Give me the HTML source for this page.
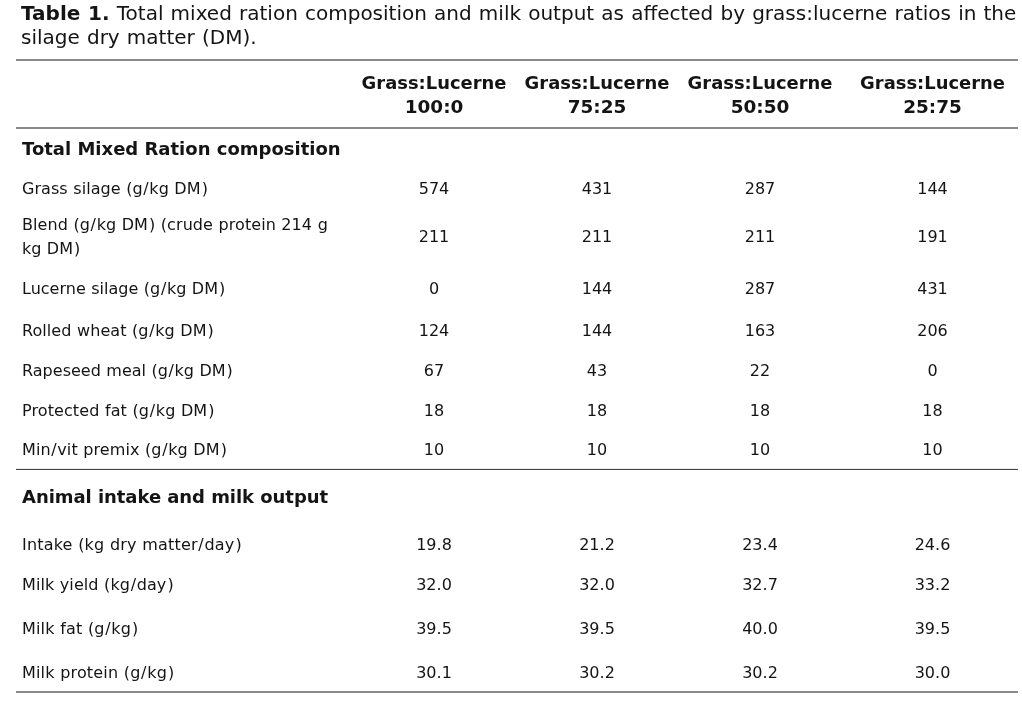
<!DOCTYPE html>
<html lang="en"><head><meta charset="utf-8"><title>Table 1. Total mixed ration composition and milk output</title>
<style>
html,body{margin:0;padding:0;background:#fff;}
body{width:1022px;height:702px;position:relative;overflow:hidden;font-family:'DejaVu Sans', 'Liberation Sans', sans-serif;color:#141414;}
.caption{position:absolute;left:21px;top:1px;margin:0;font-size:20px;line-height:24px;word-spacing:0.8px;white-space:nowrap;font-weight:normal;}
table{position:absolute;left:16px;top:59px;width:1002px;border-collapse:separate;border-spacing:0;table-layout:fixed;font-size:16px;line-height:24px;}
th,td{padding:0;vertical-align:top;white-space:nowrap;font-weight:normal;}
tbody th{text-align:left;padding-left:6px;word-spacing:0.35px;}
td{text-align:center;}
td:last-child{padding-left:5px;}
.hdr td,.hdr th{border-top:2px solid #8a8a8a;border-bottom:2px solid #8a8a8a;}
.hdr th{font-weight:bold;font-size:17px;text-align:center;line-height:24px;}
.hdr th:last-child{padding-left:5px;}
.hdr .g{transform:scaleX(1.054);}
.hdr .r{transform:scaleX(1.085);}
tr.sec th{font-weight:bold;font-size:18px;padding-left:6px;word-spacing:0;}
tr.end th,tr.end td{border-bottom:1px solid #444;box-shadow:inset 0 -1px 0 #ededed;}
tr.last th,tr.last td{border-bottom:2px solid #8a8a8a;}
.sl{margin:0 0.6px;}
.rp{margin-left:1px;}
</style></head><body>
<p class="caption"><b>Table 1.</b> Total mixed ration composition and milk output as affected by grass:lucerne ratios in the<br>silage dry matter (DM).</p>
<table>
<colgroup><col style="width:336px"><col style="width:164px"><col style="width:162px"><col style="width:164px"><col style="width:176px"></colgroup>
<thead><tr class="hdr" style="height:70px"><td></td><th scope="col" style="padding-top:10px"><div class="g">Grass:Lucerne</div><div class="r">100:0</div></th><th scope="col" style="padding-top:10px"><div class="g">Grass:Lucerne</div><div class="r">75:25</div></th><th scope="col" style="padding-top:10px"><div class="g">Grass:Lucerne</div><div class="r">50:50</div></th><th scope="col" style="padding-top:10px"><div class="g">Grass:Lucerne</div><div class="r">25:75</div></th></tr></thead>
<tbody>
<tr class="sec" style="height:41px"><th colspan="5" style="padding-top:8px">Total Mixed Ration composition</th></tr>
<tr style="height:40px"><th scope="row" style="padding-top:7px;letter-spacing:0.062px">Grass silage (g<span class="sl">/</span>kg DM<span class="rp">)</span></th><td style="padding-top:7px">574</td><td style="padding-top:7px">431</td><td style="padding-top:7px">287</td><td style="padding-top:7px">144</td></tr>
<tr style="height:60px"><th scope="row" style="padding-top:3px"><span style="letter-spacing:0.071px">Blend (g<span class="sl">/</span>kg DM<span class="rp">)</span> (crude protein 214 g</span><br>kg DM<span class="rp">)</span></th><td style="padding-top:15px">211</td><td style="padding-top:15px">211</td><td style="padding-top:15px">211</td><td style="padding-top:15px">191</td></tr>
<tr style="height:42px"><th scope="row" style="padding-top:7px;letter-spacing:0.017px">Lucerne silage (g<span class="sl">/</span>kg DM<span class="rp">)</span></th><td style="padding-top:7px">0</td><td style="padding-top:7px">144</td><td style="padding-top:7px">287</td><td style="padding-top:7px">431</td></tr>
<tr style="height:40px"><th scope="row" style="padding-top:7px;letter-spacing:0.071px">Rolled wheat (g<span class="sl">/</span>kg DM<span class="rp">)</span></th><td style="padding-top:7px">124</td><td style="padding-top:7px">144</td><td style="padding-top:7px">163</td><td style="padding-top:7px">206</td></tr>
<tr style="height:40px"><th scope="row" style="padding-top:7px;letter-spacing:0.014px">Rapeseed meal (g<span class="sl">/</span>kg DM<span class="rp">)</span></th><td style="padding-top:7px">67</td><td style="padding-top:7px">43</td><td style="padding-top:7px">22</td><td style="padding-top:7px">0</td></tr>
<tr style="height:40px"><th scope="row" style="padding-top:7px;letter-spacing:0.095px">Protected fat (g<span class="sl">/</span>kg DM<span class="rp">)</span></th><td style="padding-top:7px">18</td><td style="padding-top:7px">18</td><td style="padding-top:7px">18</td><td style="padding-top:7px">18</td></tr>
<tr class="end" style="height:38px"><th scope="row" style="padding-top:6px;letter-spacing:0.083px">Min<span class="sl">/</span>vit premix (g<span class="sl">/</span>kg DM<span class="rp">)</span></th><td style="padding-top:6px">10</td><td style="padding-top:6px">10</td><td style="padding-top:6px">10</td><td style="padding-top:6px">10</td></tr>
<tr class="sec" style="height:50px"><th colspan="5" style="padding-top:15px;letter-spacing:-0.05px">Animal intake and milk output</th></tr>
<tr style="height:45px"><th scope="row" style="padding-top:13px;letter-spacing:0.176px">Intake (kg dry matter<span class="sl">/</span>day<span class="rp">)</span></th><td style="padding-top:13px">19.8</td><td style="padding-top:13px">21.2</td><td style="padding-top:13px">23.4</td><td style="padding-top:13px">24.6</td></tr>
<tr style="height:43px"><th scope="row" style="padding-top:8px;letter-spacing:0.083px">Milk yield (kg<span class="sl">/</span>day<span class="rp">)</span></th><td style="padding-top:8px">32.0</td><td style="padding-top:8px">32.0</td><td style="padding-top:8px">32.7</td><td style="padding-top:8px">33.2</td></tr>
<tr style="height:44px"><th scope="row" style="padding-top:9px;letter-spacing:0.15px">Milk fat (g<span class="sl">/</span>kg<span class="rp">)</span></th><td style="padding-top:9px">39.5</td><td style="padding-top:9px">39.5</td><td style="padding-top:9px">40.0</td><td style="padding-top:9px">39.5</td></tr>
<tr class="last" style="height:41px"><th scope="row" style="padding-top:9px;letter-spacing:0.16px">Milk protein (g<span class="sl">/</span>kg<span class="rp">)</span></th><td style="padding-top:9px">30.1</td><td style="padding-top:9px">30.2</td><td style="padding-top:9px">30.2</td><td style="padding-top:9px">30.0</td></tr>
</tbody>
</table>
</body></html>
